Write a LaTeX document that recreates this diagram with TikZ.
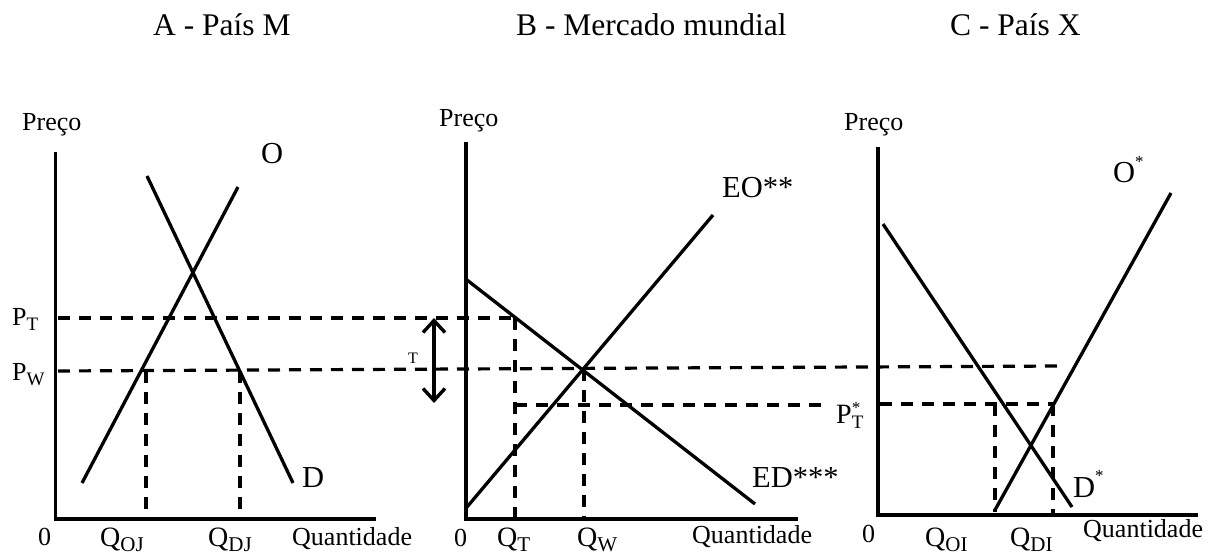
\documentclass[tikz,border=0pt]{standalone}
\usepackage{fontspec}
\setmainfont{Liberation Serif}
\usetikzlibrary{arrows.meta}
\newcommand\sbs[2][19]{\raisebox{-0.2em}{\fontsize{#1}{#1}\selectfont #2}}
\newcommand\sps[2][0.5em]{\raisebox{#1}{\fontsize{17}{17}\selectfont #2}}
\begin{document}
\begin{tikzpicture}[x=1pt,y=-1pt,
  axis/.style={line width=3.8pt},
  curve/.style={line width=3.3pt},
  guide/.style={line width=3.2pt, dash pattern=on 12pt off 9pt},
  txt/.style={inner sep=0pt, anchor=base west, font=\fontsize{26}{26}\selectfont},
  qlab/.style={inner sep=0pt, anchor=base west, font=\fontsize{28}{28}\selectfont},
  clab/.style={inner sep=0pt, anchor=base west, font=\fontsize{30.5}{31}\selectfont},
  ttl/.style={inner sep=0pt, anchor=base west, font=\fontsize{31.5}{32}\selectfont},
  small/.style={inner sep=0pt, font=\fontsize{16}{16}\selectfont},
  dblarrow/.style={line width=3.4pt, {Straight Barb[length=12pt,width=22pt]}-{Straight Barb[length=12pt,width=22pt]}}
]
\useasboundingbox (0,0) rectangle (1216,556);

% titles
\node[ttl] (tA) at (153,36) {A - País M};
\node[ttl] (tB) at (516,36) {B - Mercado mundial};
\node[ttl] (tC) at (950,36) {C - País X};

% ---------- Panel A ----------
\coordinate (Atop) at (55.5,152);
\coordinate (Aorg) at (55.5,519);
\coordinate (Aend) at (376,519);
\draw[axis] (Atop) -- (Aorg) -- (Aend);
\node[txt] (pA) at (22,131) {Preço};
\coordinate (Os) at (82,483);
\coordinate (Oe) at (238,187);
\draw[curve] (Os) -- (Oe);
\coordinate (Ds) at (147,176);
\coordinate (De) at (293,483);
\draw[curve] (Ds) -- (De);
\node[clab] (Olab) at (261,164) {O};
\node[clab] (Dlab) at (302,487) {D};
\node[txt] (PT) at (12,325) {P\sbs{T}};
\node[txt] (PW) at (12,380) {P\sbs{W}};
\node[txt] (zA) at (38,545) {0};
\node[qlab] (QOJ) at (100,546) {Q\sbs[21]{OJ}};
\node[qlab] (QDJ) at (208,546) {Q\sbs[21]{DJ}};
\node[txt] (qA) at (292,545) {Quantidade};

% guide lines
\coordinate (PTa) at (58,318);
\coordinate (PTb) at (515,318);
\draw[guide] (PTa) -- (PTb);
\coordinate (PWa) at (58,371);
\coordinate (PWb) at (1063,366);
\draw[guide] (PWa) -- (PWb);
\coordinate (QOJt) at (146,371);
\coordinate (QOJb) at (146,519);
\draw[guide] (QOJt) -- (QOJb);
\coordinate (QDJt) at (240,371);
\coordinate (QDJb) at (240,519);
\draw[guide] (QDJt) -- (QDJb);

% tariff arrow
\coordinate (arT) at (434,318);
\coordinate (arB) at (434,403);
\draw[dblarrow] (arT) -- (arB);
\node[small] (Tlab) at (413,358) {T};

% ---------- Panel B ----------
\coordinate (Btop) at (466,142);
\coordinate (Borg) at (466,519);
\coordinate (Bend) at (798,519);
\draw[axis] (Btop) -- (Borg) -- (Bend);
\node[txt] (pB) at (439,127) {Preço};
\coordinate (EDs) at (467,280);
\coordinate (EDe) at (755,504);
\draw[curve] (EDs) -- (EDe);
\coordinate (EOs) at (467,507);
\coordinate (EOe) at (713,215);
\draw[curve] (EOs) -- (EOe);
\node[clab] (EOlab) at (722,198) {EO**};
\node[clab] (EDlab) at (752,487) {ED***};
\coordinate (QTb) at (515,519);
\draw[guide] (PTb) -- (QTb);
\coordinate (QWt) at (584,369);
\coordinate (QWb) at (584,519);
\draw[guide] (QWt) -- (QWb);
\coordinate (PTsa) at (515,405);
\coordinate (PTsb) at (825,405);
\draw[guide] (PTsa) -- (PTsb);
\node[txt] (zB) at (454,546) {0};
\node[qlab] (QT) at (497,546) {Q\sbs[21]{T}};
\node[qlab] (QW) at (577,546) {Q\sbs[21]{W}};
\node[txt] (qB) at (692,543) {Quantidade};

% ---------- Panel C ----------
\coordinate (Ctop) at (878,147);
\coordinate (Corg) at (878,515);
\coordinate (Cend) at (1198,515);
\draw[axis] (Ctop) -- (Corg) -- (Cend);
\node[txt] (pC) at (844,131) {Preço};
\coordinate (Dss) at (883,224);
\coordinate (Dse) at (1072,507);
\draw[curve] (Dss) -- (Dse);
\coordinate (Oss) at (995,510);
\coordinate (Ose) at (1171,193);
\draw[curve] (Oss) -- (Ose);
\node[clab] (Oslab) at (1113,183) {O\sps{*}};
\node[clab] (Dslab) at (1073,497) {D\sps{*}};
\node[inner sep=0pt, anchor=base west, font=\fontsize{28}{28}\selectfont] (PTs) at (836,423) {P\makebox[0pt][l]{\sps[0.33em]{*}}\sbs{T}};
\coordinate (PTca) at (880,404);
\coordinate (PTcb) at (1053,404);
\draw[guide] (PTca) -- (PTcb);
\coordinate (QOIb) at (995,512);
\coordinate (QOIt) at (995,404);
\draw[guide] (QOIt) -- (QOIb);
\coordinate (QDIb) at (1053,515);
\draw[guide] (PTcb) -- (QDIb);
\node[txt] (zC) at (862,542) {0};
\node[qlab] (QOI) at (925,546) {Q\sbs[21]{OI}};
\node[qlab] (QDI) at (1010,546) {Q\sbs[21]{DI}};
\node[txt] (qC) at (1083,537) {Quantidade};
\end{tikzpicture}
\end{document}
